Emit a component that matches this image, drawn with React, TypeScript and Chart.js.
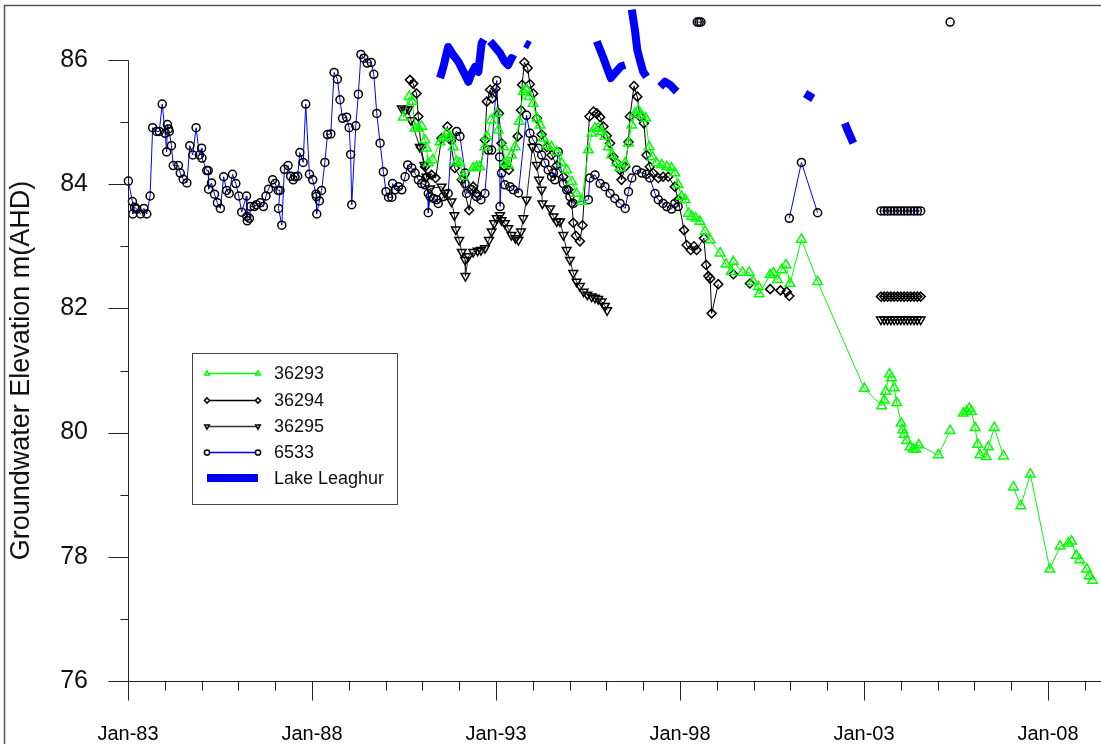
import React, { useEffect, useRef } from 'react';
import { Chart, registerables } from 'chart.js';

Chart.register(...registerables);

const FONT = "'Liberation Sans', Arial, Helvetica, sans-serif";

// ---------------- data ----------------
const seriesNames = ['36293', '36294', '36295', '6533', 'Lake Leaghur'];

const years36293 = [
  1990.48, 1990.64, 1990.73, 1990.80, 1990.89, 1990.98, 1991.07, 1991.11, 1991.16, 1991.28,
  1991.48, 1991.57, 1991.66, 1991.75, 1991.84, 1991.93, 1992.02, 1992.11, 1992.38, 1992.47,
  1992.56, 1992.70, 1992.75, 1992.86, 1993.02, 1993.06, 1993.20, 1993.24, 1993.33, 1993.42,
  1993.52, 1993.63, 1993.74, 1993.83, 1993.90, 1994.01, 1994.11, 1994.20, 1994.28, 1994.38,
  1994.51, 1994.65, 1994.78, 1994.92, 1995.06, 1995.19, 1995.33, 1995.51, 1995.60, 1995.69,
  1995.78, 1995.87, 1995.96, 1996.05, 1996.14, 1996.28, 1996.38, 1996.51, 1996.60, 1996.69,
  1996.78, 1996.87, 1996.96, 1997.07, 1997.16, 1997.25, 1997.36, 1997.50, 1997.64, 1997.77,
  1997.86, 1997.95, 1998.04, 1998.14, 1998.23, 1998.32, 1998.43, 1998.54, 1998.68, 1998.82,
  1999.09, 1999.25, 1999.39, 1999.45, 1999.70, 1999.88, 1999.99, 2000.13, 2000.15, 2000.45,
  2000.54, 2000.65, 2000.76, 2000.88, 2000.99, 2001.30, 2001.74, 2003.01, 2003.48, 2003.55,
  2003.59, 2003.69, 2003.75, 2003.82, 2003.89, 2004.01, 2004.05, 2004.09, 2004.16, 2004.25,
  2004.34, 2004.41, 2004.49, 2005.02, 2005.34, 2005.50, 2005.70, 2005.79, 2005.86, 2005.92,
  2006.02, 2006.09, 2006.15, 2006.32, 2006.38, 2006.54, 2006.79, 2006.90, 2007.06, 2007.26,
  2007.52, 2008.05, 2008.33, 2008.55, 2008.64, 2008.77, 2008.86, 2009.05, 2009.12, 2009.21,
];
const levels36293 = [
  85.08, 85.41, 85.33, 84.90, 84.90, 84.93, 84.71, 84.58, 84.34, 84.39,
  84.68, 84.74, 84.82, 84.77, 84.60, 84.36, 84.34, 84.12, 84.26, 84.28,
  84.28, 84.60, 84.77, 85.03, 85.14, 84.87, 84.60, 84.34, 84.31, 84.47,
  84.60, 85.01, 85.49, 85.52, 85.41, 85.30, 85.06, 84.95, 84.74, 84.63,
  84.60, 84.52, 84.34, 84.23, 84.04, 83.85, 83.72, 84.55, 84.82, 84.90,
  84.90, 84.85, 84.77, 84.60, 84.47, 84.34, 84.26, 84.34, 84.66, 84.95,
  85.14, 85.19, 85.11, 85.06, 84.60, 84.44, 84.34, 84.31, 84.28, 84.26,
  84.18, 83.99, 83.80, 83.75, 83.53, 83.48, 83.45, 83.40, 83.24, 83.10,
  82.89, 82.71, 82.59, 82.75, 82.58, 82.58, 82.43, 82.35, 82.23, 82.54,
  82.57, 82.46, 82.62, 82.70, 82.40, 83.11, 82.43, 80.71, 80.43, 80.52,
  80.66, 80.94, 80.88, 80.72, 80.48, 80.15, 80.04, 79.97, 79.87, 79.77,
  79.73, 79.73, 79.80, 79.64, 80.03, null, 80.31, 80.34, 80.39, 80.34,
  80.08, 79.81, 79.64, 79.61, 79.77, 80.08, 79.62, null, 79.12, 78.82,
  79.33, 77.80, 78.17, 78.22, 78.25, 78.02, 77.95, 77.80, 77.69, 77.62,
];

const years36294 = [
  1990.66, 1990.75, 1990.84, 1990.89, 1990.96, 1991.07, 1991.11, 1991.25, 1991.36, 1991.52,
  1991.68, 1991.75, 1991.88, 1992.07, 1992.27, 1992.38, 1992.47, 1992.70, 1992.75, 1992.84,
  1992.90, 1992.99, 1993.08, 1993.15, 1993.23, 1993.35, 1993.59, 1993.68, 1993.71, 1993.77,
  1993.86, 1993.92, 1994.01, 1994.11, 1994.24, 1994.38, 1994.51, 1994.65, 1994.83, 1994.97,
  1995.06, 1995.10, 1995.17, 1995.28, 1995.35, 1995.54, 1995.65, 1995.74, 1995.83, 1995.92,
  1996.01, 1996.10, 1996.19, 1996.28, 1996.37, 1996.41, 1996.51, 1996.60, 1996.64, 1996.75,
  1996.84, 1996.91, 1997.02, 1997.09, 1997.18, 1997.27, 1997.41, 1997.54, 1997.68, 1997.86,
  1997.95, 1998.11, 1998.18, 1998.29, 1998.38, 1998.45, 1998.65, 1998.71, 1998.77, 1998.82,
  1998.86, 1999.04,
  1999.25, 1999.45, 1999.70, 1999.90, 2000.20, 2000.45, 2000.60, 2000.73, 2000.80, 2000.90, 2000.94, 2000.97,
  2002.50,
  2003.46, 2003.55, 2003.64, 2003.73, 2003.82, 2003.91, 2004.00, 2004.09, 2004.18, 2004.27, 2004.36, 2004.45, 2004.54,
];
const levels36294 = [
  85.68, 85.62, 85.46, 85.09, 84.60, 84.28, 84.12, 84.15, 84.10, 84.74,
  84.93, 84.74, 84.26, 84.07, 83.58, 83.96, 83.85, 84.71, 85.33, 85.52,
  85.38, 85.54, 85.14, 84.66, 84.28, 84.23, 84.77, 85.19, 85.60, 85.96,
  85.87, 85.61, 85.46, 85.06, 84.80, 84.60, 84.47, 84.30, 84.12, 83.91,
  83.69, 83.38, 83.17, 83.08, 83.34, 85.09, 85.17, 85.14, 85.08, 84.93,
  84.78, 84.66, 84.44, 84.34, 84.23, 84.07, 84.28, 84.68, 85.09, 85.58,
  85.41, 85.09, 84.98, 84.47, 84.28, 84.18, 84.10, 84.12, 84.12, 83.96,
  83.75, 83.26, 83.02, 82.94, 83.00, 82.94, 83.13, 82.70, 82.52, 82.48,
  81.92, 82.39,
  null, 82.55, null, 82.40, null, 82.31, null, 82.29, null, 82.27, null, 82.20,
  null,
  82.19, 82.19, 82.19, 82.19, 82.19, 82.19, 82.19, 82.19, 82.19, 82.19, 82.19, 82.19, 82.19,
];

const years36295 = [
  1990.44, 1990.53, 1990.62, 1990.69, 1990.93, 1991.05, 1991.11, 1991.21, 1991.52, 1991.61,
  1991.79, 1991.87, 1991.91, 1992.00, 1992.07, 1992.16, 1992.17, 1992.25, 1992.38, 1992.50,
  1992.59, 1992.70, 1992.81, 1992.88, 1992.95, 1993.02, 1993.11, 1993.15, 1993.24, 1993.33,
  1993.42, 1993.53, 1993.61, 1993.68, 1993.74, 1993.83, 1993.99, 1994.11, 1994.17, 1994.24,
  1994.26, 1994.47, 1994.56, 1994.65, 1994.74, 1994.83, 1994.92, 1995.01, 1995.10, 1995.19,
  1995.28, 1995.38, 1995.48, 1995.60, 1995.69, 1995.78, 1995.87, 1995.96, 1996.02,
  2000.00,
  2003.46, 2003.55, 2003.64, 2003.73, 2003.82, 2003.91, 2004.00, 2004.09, 2004.18, 2004.27, 2004.36, 2004.45, 2004.54,
];
const levels36295 = [
  85.22, 85.19, 85.21, 85.03, 84.60, 84.31, 84.12, 83.93, 83.96, 83.86,
  83.72, 83.50, 83.27, 83.10, 82.91, 82.78, 82.52, 82.84, 82.91, 82.93,
  82.94, 82.97, 83.10, 83.24, 83.37, 83.45, 83.50, 83.42, 83.37, 83.29,
  83.18, 83.13, 83.10, 83.24, 83.45, 83.75, 84.60, 84.31, 84.07, 83.91,
  83.69, 83.61, 83.48, 83.40, 83.40, 83.18, 82.94, 82.78, 82.57, 82.43,
  82.36, 82.27, 82.22, 82.19, 82.17, 82.15, 82.11, 82.04, 81.97,
  null,
  81.82, 81.82, 81.82, 81.82, 81.82, 81.82, 81.82, 81.82, 81.82, 81.82, 81.82, 81.82, 81.82,
];

const years6533 = [
  1983.01, 1983.12, 1983.13, 1983.18, 1983.24, 1983.34, 1983.43, 1983.51, 1983.60, 1983.67,
  1983.78, 1983.85, 1983.93, 1984.01, 1984.05, 1984.07, 1984.10, 1984.12, 1984.18, 1984.23,
  1984.37, 1984.42, 1984.50, 1984.60, 1984.68, 1984.76, 1984.85, 1984.94, 1985.00, 1985.01,
  1985.14, 1985.18, 1985.19, 1985.27, 1985.35, 1985.43, 1985.51, 1985.60, 1985.68, 1985.75,
  1985.84, 1985.93, 1986.01, 1986.09, 1986.22, 1986.23, 1986.24, 1986.30, 1986.33, 1986.43,
  1986.49, 1986.59, 1986.68, 1986.75, 1986.82, 1986.93, 1987.00, 1987.08, 1987.13, 1987.09,
  1987.18, 1987.25, 1987.35, 1987.42, 1987.49, 1987.54, 1987.61, 1987.67, 1987.76, 1987.83,
  1987.93, 1988.02, 1988.11, 1988.12, 1988.13, 1988.20, 1988.26, 1988.35, 1988.42, 1988.51,
  1988.60, 1988.69, 1988.76, 1988.83, 1988.94, 1989.01, 1989.05, 1989.08, 1989.19, 1989.26,
  1989.33, 1989.41, 1989.50, 1989.61, 1989.68, 1989.76, 1989.85, 1989.94, 1990.01, 1990.08,
  1990.17, 1990.19, 1990.26, 1990.35, 1990.44, 1990.53, 1990.60, 1990.71, 1990.80, 1990.89,
  1990.98, 1991.07, 1991.16, 1991.16, 1991.21, 1991.30, 1991.39, 1991.43, 1991.57, 1991.70,
  1991.79, 1991.93, 1992.02, 1992.16, 1992.16, 1992.20, 1992.34, 1992.47, 1992.59, 1992.70,
  1992.79, 1992.88, 1993.02, 1993.10, 1993.11, 1993.15, 1993.24, 1993.38, 1993.47, 1993.61,
  1993.83, 1993.92, 1994.01, 1994.15, 1994.24, 1994.33, 1994.42, 1994.51, 1994.56, 1994.60,
  1994.69, 1994.83, 1994.92, 1995.01, 1995.10, 1995.51, 1995.55, 1995.69, 1995.83, 1995.96,
  1996.10, 1996.23, 1996.37, 1996.51, 1996.60, 1996.69, 1996.82, 1996.96, 1997.09, 1997.18,
  1997.32, 1997.41, 1997.54, 1997.64, 1997.77, 1997.86, 1997.95,
  1998.20,
  1998.47, 1998.52, 1998.57,
  1999.50,
  2000.97, 2001.30, 2001.74,
  2002.50,
  2003.46, 2003.55, 2003.64, 2003.73, 2003.82, 2003.91, 2004.00, 2004.09, 2004.18, 2004.27, 2004.36, 2004.45, 2004.54,
  2005.00,
  2005.34,
];
const levels6533 = [
  84.05, 83.72, 83.52, 83.63, 83.60, 83.52, 83.61, 83.52, 83.81, 84.91,
  84.85, 84.85, 85.29, 84.82, 84.52, 84.96, 84.89, 84.85, 84.62, 84.30,
  84.30, 84.18, 84.08, 84.02, 84.62, 84.47, 84.91, 84.47, 84.58, 84.42,
  84.22, 84.22, 83.92, 84.02, 83.84, 83.70, 83.61, 84.12, 83.90, 83.85,
  84.16, 84.01, 83.81, 83.55, 83.81, 83.48, 83.41, 83.45, 83.64, 83.64,
  83.67, 83.70, 83.64, 83.81, 83.92, 84.07, 84.01, 83.90, 83.90, 83.61,
  83.34, 84.24, 84.30, 84.13, 84.07, 84.12, 84.13, 84.51, 84.35, 85.29,
  84.16, 84.07, 83.84, 83.80, 83.52, 83.73, 83.90, 84.35, 84.80, 84.81,
  85.80, 85.69, 85.36, 85.06, 85.08, 84.91, 84.48, 83.67, 84.94, 85.45,
  86.09, 86.03, 85.95, 85.96, 85.77, 85.14, 84.66, 84.20, 83.88, 83.79,
  83.79, 84.01, 83.91, 83.96, 83.91, 84.12, 84.31, 84.26, 84.18, 84.07,
  84.01, 83.99, 83.85, 83.54, 83.80, 83.77, 83.75, 83.69, 83.80, 83.85,
  84.71, 84.85, 84.77, 84.18, 84.01, 83.85, 83.91, 83.80, 83.75, 83.85,
  84.55, 84.55, 85.67, 84.44, 83.64, 84.18, 83.99, 83.96, 83.91, 83.86,
  85.11, 84.82, 84.71, 84.58, 84.47, 84.34, 84.23, 84.12, 84.18, 84.07,
  84.52, 84.01, 83.91, 83.80, 83.69, 83.75, 84.10, 84.15, 84.01, 83.96,
  83.85, 83.77, 83.69, 83.61, 83.88, 84.10, 84.23, 84.18, 84.16, 84.10,
  83.85, 83.75, 83.69, 83.64, 83.60, 83.69, 83.64,
  null,
  86.61, 86.61, 86.61,
  null,
  83.45, 84.35, 83.54,
  null,
  83.57, 83.57, 83.57, 83.57, 83.57, 83.57, 83.57, 83.57, 83.57, 83.57, 83.57, 83.57, 83.57,
  null,
  86.61,
];

const yearsLake = [
  1991.48, 1991.57, 1991.70, 1991.84, 1991.98, 1992.16, 1992.25, 1992.34, 1992.43, 1992.52, 1992.61, 1992.67,
  1992.75,
  1992.84, 1992.97, 1993.11, 1993.24, 1993.33, 1993.42, 1993.52,
  1993.65,
  1993.79, 1993.92,
  1995.00,
  1995.74, 1995.92, 1996.05, 1996.12, 1996.25, 1996.40, 1996.51,
  1996.60,
  1996.69, 1996.78, 1996.84, 1996.91, 1997.00, 1997.09,
  1997.30,
  1997.46, 1997.59, 1997.73, 1997.86, 1997.91,
  1999.00,
  2001.40, 2001.62,
  2002.00,
  2002.48, 2002.57, 2002.71,
];
const levelsLake = [
  85.71, 85.89, 86.21, 86.08, 85.97, 85.76, 85.65, 85.79, 85.89, 85.81, 86.27, 86.33,
  null,
  86.30, 86.21, 86.11, 85.97, 85.92, 86.03, 86.00,
  null,
  86.27, 86.23,
  null,
  86.30, 86.03, 85.82, 85.71, 85.80, 85.90, 85.92,
  null,
  86.81, 86.46, 86.16, 86.00, 85.81, 85.73,
  null,
  85.57, 85.65, 85.60, 85.52, 85.49,
  null,
  85.46, 85.38,
  null,
  84.98, 84.85, 84.66,
];

// axes
const yTickValues = [76, 78, 80, 82, 84, 86];
const yMinorValues = [77, 79, 81, 83, 85];
const xYearTicks = [
  1983, 1984, 1985, 1986, 1987, 1988, 1989, 1990, 1991, 1992, 1993, 1994, 1995,
  1996, 1997, 1998, 1999, 2000, 2001, 2002, 2003, 2004, 2005, 2006, 2007, 2008, 2009,
];
const xMajorYears = [1983, 1988, 1993, 1998, 2003, 2008];
const xTickLabels = ['Jan-83', 'Jan-88', 'Jan-93', 'Jan-98', 'Jan-03', 'Jan-08'];
const xMin = 1983;
const xMax = 2009.44;
const pxPerYear = 36.8; // x-axis scale of the reference layout
const yMin = 76;
const yMax = 86;
const yAxisTitle = 'Groundwater Elevation m(AHD)';

const GREEN = '#00ff00';
const BLUE = '#0000ff';

function toPoints(xs: number[], ys: (number | null)[]) {
  return xs.map((x, i) => ({ x, y: ys[i] }));
}

function drawMarker(ctx: CanvasRenderingContext2D, kind: string, x: number, y: number, r: number) {
  ctx.beginPath();
  if (kind === 'up') {
    ctx.moveTo(x, y - r);
    ctx.lineTo(x + r * 0.9, y + r * 0.6);
    ctx.lineTo(x - r * 0.9, y + r * 0.6);
    ctx.closePath();
  } else if (kind === 'down') {
    ctx.moveTo(x, y + r);
    ctx.lineTo(x + r * 0.9, y - r * 0.6);
    ctx.lineTo(x - r * 0.9, y - r * 0.6);
    ctx.closePath();
  } else if (kind === 'diamond') {
    ctx.moveTo(x, y - r);
    ctx.lineTo(x + r, y);
    ctx.lineTo(x, y + r);
    ctx.lineTo(x - r, y);
    ctx.closePath();
  } else {
    ctx.arc(x, y, r, 0, Math.PI * 2);
  }
  ctx.fillStyle = '#fff';
  ctx.fill();
  ctx.stroke();
}

let savedArea = { top: 0, right: 0, width: 0, height: 0 };

const overlayPlugin = {
  id: 'overlay',
  // keep the x scale at the reference's years-per-pixel whatever padding the layout chose
  afterLayout(chart: any) {
    try {
      const xs = chart.scales.x;
      const target = xMin + (xs.right - xs.left) / pxPerYear;
      if (isFinite(target) && Math.abs(target - xs.max) > 1e-6) {
        xs.max = target;
        xs.configure();
      }
    } catch (e) {
      // leave the scale as laid out
    }
  },
  // the plot runs up to the frame and to the right edge: let those marks be drawn
  beforeDatasetsDraw(chart: any) {
    const a = chart.chartArea;
    savedArea = { top: a.top, right: a.right, width: a.width, height: a.height };
    a.top = 0;
    a.right = chart.width;
    a.width = a.right - a.left;
    a.height = a.bottom - a.top;
  },
  afterDatasetsDraw(chart: any) {
    const a = chart.chartArea;
    a.top = savedArea.top;
    a.right = savedArea.right;
    a.width = savedArea.width;
    a.height = savedArea.height;
  },
  afterDraw(chart: any) {
    const ctx: CanvasRenderingContext2D = chart.ctx;
    const xs = chart.scales.x;
    const ys = chart.scales.y;
    ctx.save();

    // outer frame
    ctx.strokeStyle = '#555';
    ctx.lineWidth = 1.5;
    ctx.beginPath();
    ctx.moveTo(4.5, chart.height);
    ctx.lineTo(4.5, 5.5);
    ctx.lineTo(chart.width, 5.5);
    ctx.stroke();

    // axes
    ctx.strokeStyle = '#222';
    ctx.lineWidth = 1;
    const ax = Math.round(xs.getPixelForValue(xMin)) + 0.5;
    const ay = Math.round(ys.getPixelForValue(yMin)) + 0.5;
    const aTop = Math.round(ys.getPixelForValue(yMax)) + 0.5;
    ctx.beginPath();
    ctx.moveTo(ax, aTop);
    ctx.lineTo(ax, ay);
    ctx.lineTo(chart.width, ay);
    ctx.stroke();

    ctx.beginPath();
    yTickValues.forEach((v) => {
      const p = Math.round(ys.getPixelForValue(v)) + 0.5;
      ctx.moveTo(ax - 20, p);
      ctx.lineTo(ax, p);
    });
    yMinorValues.forEach((v) => {
      const p = Math.round(ys.getPixelForValue(v)) + 0.5;
      ctx.moveTo(ax - 8, p);
      ctx.lineTo(ax, p);
    });
    xYearTicks.forEach((v) => {
      const p = Math.round(xs.getPixelForValue(v)) + 0.5;
      const len = xMajorYears.includes(v) ? 19 : 9;
      ctx.moveTo(p, ay);
      ctx.lineTo(p, ay + len);
    });
    ctx.stroke();

    // legend
    const bx = 192.5;
    const by = 353.5;
    const bw = 205;
    const bh = 151;
    ctx.fillStyle = '#fff';
    ctx.fillRect(bx, by, bw, bh);
    ctx.strokeStyle = '#444';
    ctx.lineWidth = 1;
    ctx.strokeRect(bx, by, bw, bh);

    const rowY = [373, 400, 426, 452, 478];
    const lineColors = [GREEN, '#000', '#333', BLUE, BLUE];
    const markerColors = [GREEN, '#000', '#000', '#000', BLUE];
    const markerKinds = ['up', 'diamond', 'down', 'circle', 'none'];
    const x1 = 207;
    const x2 = 258;
    ctx.font = `18px ${FONT}`;
    ctx.textBaseline = 'middle';
    ctx.textAlign = 'left';
    seriesNames.forEach((name, i) => {
      const y = rowY[i];
      if (i === 4) {
        ctx.fillStyle = BLUE;
        ctx.fillRect(x1, y - 4, x2 - x1, 8);
      } else {
        ctx.strokeStyle = lineColors[i];
        ctx.lineWidth = 1.5;
        ctx.beginPath();
        ctx.moveTo(x1, y + 0.5);
        ctx.lineTo(x2, y + 0.5);
        ctx.stroke();
        ctx.strokeStyle = markerColors[i];
        ctx.lineWidth = 1.5;
        drawMarker(ctx, markerKinds[i], x1, y + 0.5, 2.6);
        drawMarker(ctx, markerKinds[i], x2, y + 0.5, 2.6);
      }
      ctx.fillStyle = '#111';
      ctx.fillText(name, 274, y + 1);
    });

    ctx.restore();
  },
};

export default function App() {
  const ref = useRef<HTMLCanvasElement>(null);

  useEffect(() => {
    if (!ref.current) return;
    Chart.defaults.font.family = FONT;
    const common = {
      fill: false,
      tension: 0,
      clip: false as any,
      spanGaps: false,
      pointBackgroundColor: 'rgba(0,0,0,0)',
      pointBorderWidth: 1.5,
      pointHoverRadius: 0,
    };
    const chart = new Chart(ref.current, {
      type: 'line',
      data: {
        datasets: [
          {
            ...common,
            label: seriesNames[0],
            data: toPoints(years36293, levels36293),
            borderColor: GREEN,
            borderWidth: 1,
            pointStyle: 'triangle',
            pointRadius: 5.5,
            pointBorderColor: GREEN,
          },
          {
            ...common,
            label: seriesNames[1],
            data: toPoints(years36294, levels36294),
            borderColor: '#000',
            borderWidth: 1,
            pointStyle: 'rectRot',
            pointRadius: 4.5,
            pointBorderColor: '#000',
          },
          {
            ...common,
            label: seriesNames[2],
            data: toPoints(years36295, levels36295),
            borderColor: '#222',
            borderWidth: 1,
            pointStyle: 'triangle',
            pointRotation: 180,
            pointRadius: 5,
            pointBorderColor: '#000',
          },
          {
            ...common,
            label: seriesNames[3],
            data: toPoints(years6533, levels6533),
            borderColor: BLUE,
            borderWidth: 1,
            pointStyle: 'circle',
            pointRadius: 4,
            pointBorderColor: '#000',
          },
          {
            ...common,
            label: seriesNames[4],
            data: toPoints(yearsLake, levelsLake),
            borderColor: BLUE,
            borderWidth: 8,
            borderJoinStyle: 'round',
            borderCapStyle: 'butt',
            pointRadius: 0,
          },
        ] as any,
      },
      options: {
        animation: false,
        responsive: false,
        devicePixelRatio: 1,
        events: [],
        layout: { padding: { top: 60, left: 0, right: 0, bottom: 0 } },
        plugins: {
          legend: { display: false },
          tooltip: { enabled: false },
        },
        scales: {
          x: {
            type: 'linear',
            min: xMin,
            max: xMax,
            afterBuildTicks: (axis: any) => {
              axis.ticks = xYearTicks.map((v) => ({ value: v }));
            },
            afterFit: (axis: any) => {
              axis.height = 63;
            },
            grid: {
              display: true,
              drawOnChartArea: false,
              drawTicks: true,
              tickLength: 41,
              color: 'rgba(0,0,0,0)',
            },
            border: { display: false },
            ticks: {
              autoSkip: false,
              maxRotation: 0,
              minRotation: 0,
              padding: 0,
              color: '#000',
              font: { family: FONT, size: 20 },
              callback: (v: any) => {
                const i = xMajorYears.indexOf(Number(v));
                return i >= 0 ? xTickLabels[i] : '';
              },
            },
          },
          y: {
            type: 'linear',
            min: yMin,
            max: yMax,
            afterBuildTicks: (axis: any) => {
              axis.ticks = yTickValues.map((v) => ({ value: v }));
            },
            afterFit: (axis: any) => {
              axis.width = 128;
            },
            grid: {
              display: true,
              drawOnChartArea: false,
              drawTicks: true,
              tickLength: 20,
              color: 'rgba(0,0,0,0)',
            },
            border: { display: false },
            ticks: {
              padding: 20,
              color: '#111',
              font: { family: FONT, size: 25 },
              callback: (v: any) => String(v),
            },
            title: {
              display: true,
              text: yAxisTitle,
              color: '#111',
              font: { family: FONT, size: 27 },
              padding: { top: 5, bottom: 0 },
            },
          },
        },
      } as any,
      plugins: [overlayPlugin],
    });
    return () => chart.destroy();
  }, []);

  return (
    <div style={{ position: 'absolute', left: 0, top: 0, width: 1101, height: 744, background: '#fff' }}>
      <canvas ref={ref} width={1101} height={744} style={{ display: 'block', width: 1101, height: 744 }} />
    </div>
  );
}
